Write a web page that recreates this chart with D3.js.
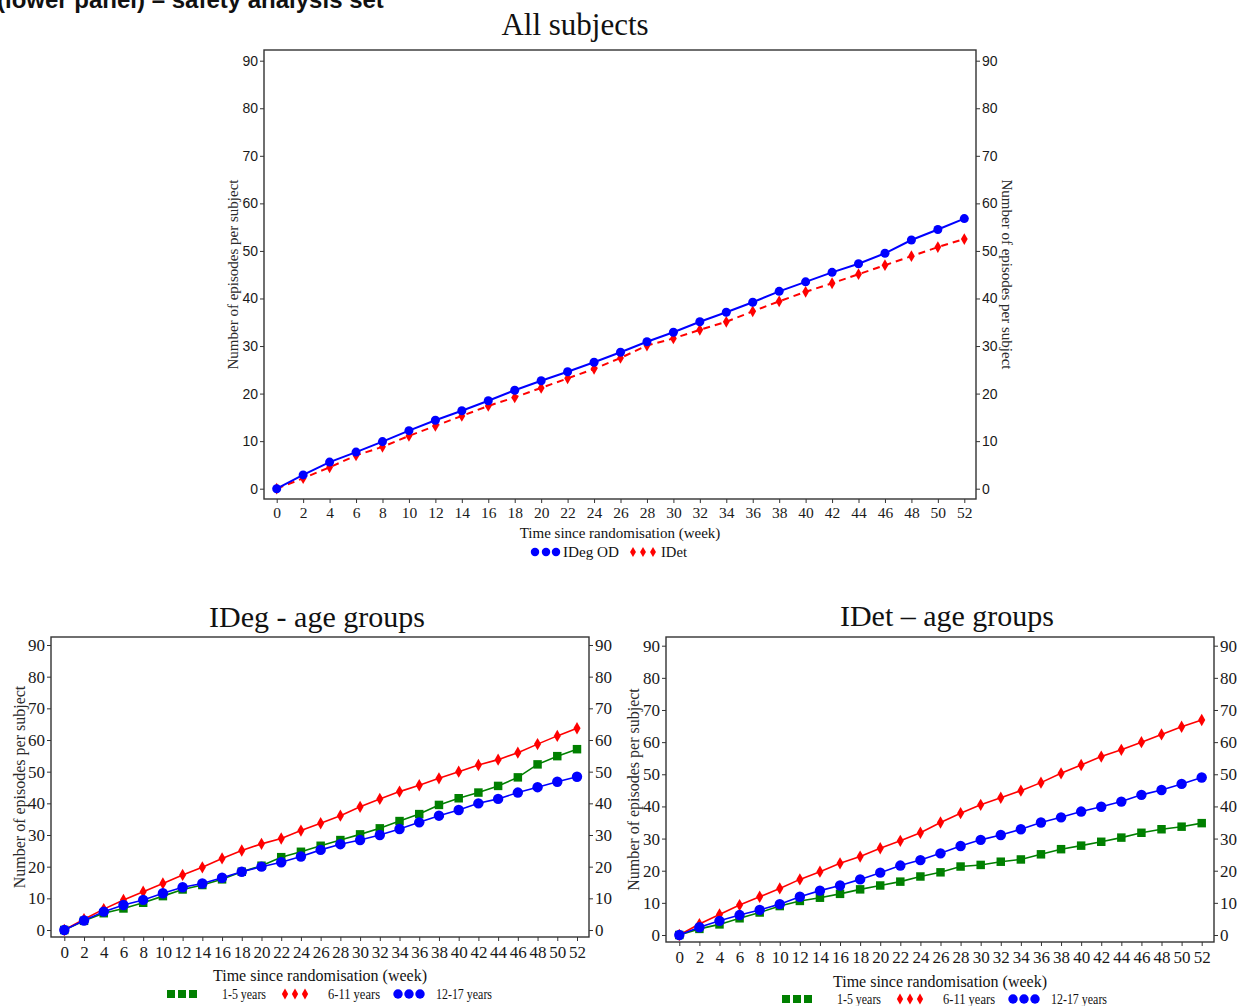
<!DOCTYPE html>
<html>
<head>
<meta charset="utf-8">
<script src="https://cdn.jsdelivr.net/npm/d3@7.9.0/dist/d3.min.js"></script>
<style>
  body { margin: 0; background: #fff; }
  svg { display: block; }
  .tick text { fill: #1a1a1a; }
  .tick line { stroke: #333; }
</style>
</head>
<body>
<svg id="chart" width="1239" height="1006"></svg>
<script>
// weeks since randomisation
const weeks = [0, 2, 4, 6, 8, 10, 12, 14, 16, 18, 20, 22, 24, 26, 28, 30, 32, 34, 36, 38, 40, 42, 44, 46, 48, 50, 52];
const yTicks = [0, 10, 20, 30, 40, 50, 60, 70, 80, 90];

// all subjects
const allIDeg = [0, 2.9, 5.6, 7.7, 9.9, 12.2, 14.4, 16.4, 18.5, 20.7, 22.7, 24.6, 26.6, 28.7, 30.9, 32.9, 35.1, 37.1, 39.2, 41.5, 43.5, 45.5, 47.3, 49.5, 52.3, 54.5, 56.8];
const allIDet = [0, 2.2, 4.5, 7.0, 8.8, 11.1, 13.2, 15.3, 17.4, 19.2, 21.2, 23.2, 25.2, 27.5, 30.1, 31.6, 33.4, 35.1, 37.3, 39.4, 41.4, 43.2, 45.1, 47.0, 48.9, 50.8, 52.5];

// IDeg by age group
const idegAge1to5 = [0, 2.9, 5.3, 6.8, 8.6, 10.7, 12.8, 14.2, 16.0, 18.4, 20.3, 23.0, 24.7, 26.6, 28.4, 30.2, 32.1, 34.4, 36.6, 39.5, 41.6, 43.4, 45.5, 48.2, 52.3, 54.9, 57.1];
const idegAge6to11 = [0, 3.4, 6.6, 9.5, 12.1, 14.7, 17.4, 19.8, 22.6, 25.1, 27.2, 28.9, 31.4, 33.7, 36.1, 38.9, 41.4, 43.7, 45.7, 47.9, 50.0, 52.1, 53.8, 56.0, 58.7, 61.3, 63.7];
const idegAge12to17 = [0, 3.0, 5.8, 7.9, 9.5, 11.6, 13.5, 14.7, 16.5, 18.4, 20.0, 21.4, 23.2, 25.3, 27.1, 28.4, 30.0, 31.9, 34.0, 36.1, 37.9, 40.0, 41.4, 43.4, 45.1, 46.8, 48.4];

// IDet by age group
const idetAge1to5 = [0, 1.9, 3.3, 5.2, 7.0, 9.0, 10.6, 11.6, 12.8, 14.2, 15.4, 16.6, 18.2, 19.5, 21.3, 21.8, 22.8, 23.5, 25.1, 26.7, 27.8, 29.0, 30.3, 31.8, 32.9, 33.7, 34.8];
const idetAge6to11 = [0, 3.4, 6.4, 9.3, 11.9, 14.5, 17.3, 19.7, 22.3, 24.4, 27.0, 29.3, 31.8, 35.0, 37.9, 40.5, 42.7, 44.9, 47.4, 50.3, 52.9, 55.5, 57.6, 60.0, 62.4, 64.8, 66.9];
const idetAge12to17 = [0, 2.4, 4.4, 6.2, 7.8, 9.6, 11.9, 13.8, 15.4, 17.3, 19.4, 21.6, 23.3, 25.4, 27.7, 29.6, 31.1, 32.9, 35.0, 36.6, 38.4, 39.9, 41.5, 43.6, 45.1, 47.0, 49.0];

const BLUE = '#0000ff', RED = '#ff0000', GREEN = '#008000';
const serif = '"Liberation Serif", "Times New Roman", serif';
const sans = '"Liberation Sans", Arial, sans-serif';

const svg = d3.select('#chart');
svg.append('rect').attr('width', 1239).attr('height', 1006).attr('fill', '#fff');

// heading from the page above, cut off at the top edge
svg.append('text')
  .attr('x', -3).attr('y', 8)
  .attr('font-family', sans).attr('font-weight', 'bold').attr('font-size', 24)
  .attr('fill', '#111')
  .text('(lower panel) \u2013 safety analysis set');

function marker(type, size) {
  return d3.symbol().type(type).size(size)();
}

function drawPanel(p) {
  const g = svg.append('g');
  const x = d3.scaleLinear().domain([0, 52]).range(p.xRange);
  const y = d3.scaleLinear().domain([0, 90]).range(p.yRange);

  // frame
  g.append('rect')
    .attr('x', p.frame[0]).attr('y', p.frame[1])
    .attr('width', p.frame[2] - p.frame[0]).attr('height', p.frame[3] - p.frame[1])
    .attr('fill', 'none').attr('stroke', '#333').attr('stroke-width', 1.4);

  const left = g.append('g')
    .attr('transform', `translate(${p.frame[0]},0)`)
    .call(d3.axisLeft(y).tickValues(yTicks).tickSize(4).tickPadding(2));
  const right = g.append('g')
    .attr('transform', `translate(${p.frame[2]},0)`)
    .call(d3.axisRight(y).tickValues(yTicks).tickSize(4).tickPadding(2));
  const bottom = g.append('g')
    .attr('transform', `translate(0,${p.frame[3]})`)
    .call(d3.axisBottom(x).tickValues(weeks).tickSize(4).tickPadding(p.xPad));

  [left, right].forEach(a => {
    a.select('.domain').remove();
    a.selectAll('text').attr('font-family', p.yFont).attr('font-size', p.yFontSize);
  });
  bottom.select('.domain').remove();
  bottom.selectAll('text').attr('font-family', serif).attr('font-size', p.xFontSize);

  // titles
  g.append('text')
    .attr('x', p.titleX).attr('y', p.titleY)
    .attr('text-anchor', 'middle')
    .attr('font-family', serif).attr('font-size', p.titleSize).attr('fill', '#111')
    .text(p.title);

  const yMid = (p.frame[1] + p.frame[3]) / 2;
  g.append('text')
    .attr('transform', `translate(${p.yTitleX},${yMid}) rotate(-90)`)
    .attr('text-anchor', 'middle').attr('dominant-baseline', 'central')
    .attr('font-family', serif).attr('font-size', p.labelSize).attr('fill', '#2a2a2a')
    .text('Number of episodes per subject');
  if (p.yTitleRightX) {
    g.append('text')
      .attr('transform', `translate(${p.yTitleRightX},${yMid}) rotate(90)`)
      .attr('text-anchor', 'middle').attr('dominant-baseline', 'central')
      .attr('font-family', serif).attr('font-size', p.labelSize).attr('fill', '#2a2a2a')
      .text('Number of episodes per subject');
  }
  g.append('text')
    .attr('x', (p.frame[0] + p.frame[2]) / 2).attr('y', p.xTitleY)
    .attr('text-anchor', 'middle').attr('dominant-baseline', 'central')
    .attr('font-family', serif).attr('font-size', p.labelSize).attr('fill', '#111')
    .text('Time since randomisation (week)');

  // series
  p.series.forEach(s => {
    const line = d3.line().x((d, i) => x(weeks[i])).y(d => y(d));
    g.append('path')
      .datum(s.values)
      .attr('d', line)
      .attr('fill', 'none')
      .attr('stroke', s.color)
      .attr('stroke-width', s.width)
      .attr('stroke-dasharray', s.dash || null);
    g.selectAll(null)
      .data(s.values)
      .join('path')
      .attr('transform', (d, i) => `translate(${x(weeks[i])},${y(d)})`)
      .attr('d', marker(s.symbol, s.size))
      .attr('fill', s.color);
  });

  // legend
  p.legend.forEach(l => {
    l.xs.forEach(cx => {
      g.append('path')
        .attr('transform', `translate(${cx},${p.legendY})`)
        .attr('d', marker(l.symbol, l.size))
        .attr('fill', l.color);
    });
    g.append('text')
      .attr('x', l.textX).attr('y', p.legendY)
      .attr('dominant-baseline', 'central')
      .attr('font-family', serif).attr('font-size', p.legendSize).attr('fill', '#111')
      .attr('textLength', l.textLen).attr('lengthAdjust', 'spacingAndGlyphs')
      .text(l.label);
  });
}

// All subjects
drawPanel({
  frame: [264, 50, 976, 499],
  xRange: [276.7, 964.3], yRange: [488.7, 60.7],
  xPad: 4, yFont: sans, yFontSize: 14, xFontSize: 15.5,
  title: 'All subjects', titleX: 575, titleY: 35, titleSize: 31,
  yTitleX: 233, yTitleRightX: 1007, labelSize: 15, xTitleY: 533,
  legendY: 552, legendSize: 15,
  series: [
    { values: allIDet, color: RED, width: 2, dash: '7,5', symbol: d3.symbolDiamond, size: 40 },
    { values: allIDeg, color: BLUE, width: 2, symbol: d3.symbolCircle, size: 64 }
  ],
  legend: [
    { label: 'IDeg OD', color: BLUE, symbol: d3.symbolCircle, size: 56, xs: [535, 546, 556], textX: 563, textLen: 56 },
    { label: 'IDet', color: RED, symbol: d3.symbolDiamond, size: 30, xs: [633, 643, 653], textX: 661, textLen: 26 }
  ]
});

function agePanel(title, frameLeft, frame, xRange, yRange, titleX, titleY, xTitleY, legendY, yTitleX, v1, v2, v3) {
  const off = frameLeft - 51;
  drawPanel({
    frame, xRange, yRange,
    xPad: 5, yFont: serif, yFontSize: 17, xFontSize: 17,
    title, titleX, titleY, titleSize: 30,
    yTitleX, labelSize: 16, xTitleY,
    legendY, legendSize: 14.5,
    series: [
      { values: v1, color: GREEN, width: 1.6, symbol: d3.symbolSquare, size: 72 },
      { values: v2, color: RED, width: 1.6, symbol: d3.symbolDiamond, size: 44 },
      { values: v3, color: BLUE, width: 1.6, symbol: d3.symbolCircle, size: 85 }
    ],
    legend: [
      { label: '1-5 years', color: GREEN, symbol: d3.symbolSquare, size: 64, xs: [171 + off, 182 + off, 193 + off], textX: 222 + off, textLen: 44 },
      { label: '6-11 years', color: RED, symbol: d3.symbolDiamond, size: 34, xs: [285 + off, 295 + off, 305 + off], textX: 328 + off, textLen: 52 },
      { label: '12-17 years', color: BLUE, symbol: d3.symbolCircle, size: 70, xs: [398 + off, 409 + off, 420 + off], textX: 436 + off, textLen: 56 }
    ]
  });
}

agePanel('IDeg - age groups', 51, [51, 637, 589, 937], [64.3, 577], [930, 645],
  317, 627, 975, 994, 19, idegAge1to5, idegAge6to11, idegAge12to17);
agePanel('IDet \u2013 age groups', 666, [666, 637, 1214, 942], [679.3, 1201.7], [935, 645.7],
  947, 626, 981, 999, 633, idetAge1to5, idetAge6to11, idetAge12to17);
</script>
</body>
</html>
